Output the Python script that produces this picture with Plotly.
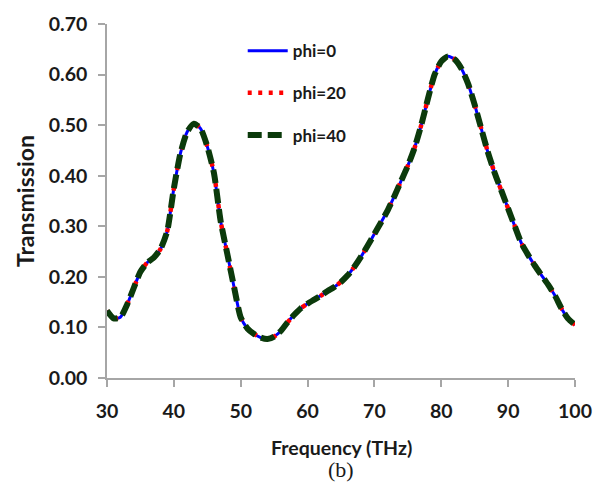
import plotly.graph_objects as go

freq = list(range(30, 101))
trans = [0.133, 0.118, 0.120, 0.145, 0.178, 0.210, 0.228, 0.238, 0.255, 0.290,
         0.375, 0.445, 0.487, 0.503, 0.493, 0.458, 0.405, 0.310, 0.245, 0.180,
         0.120, 0.098, 0.087, 0.080, 0.077, 0.082, 0.093, 0.110, 0.125, 0.138,
         0.147, 0.155, 0.163, 0.172, 0.180, 0.190, 0.203, 0.220, 0.240, 0.262,
         0.285, 0.308, 0.332, 0.360, 0.390, 0.420, 0.455, 0.500, 0.552, 0.600,
         0.626, 0.636, 0.630, 0.612, 0.582, 0.540, 0.492, 0.445, 0.405, 0.370,
         0.335, 0.300, 0.266, 0.243, 0.222, 0.203, 0.184, 0.163, 0.137, 0.117,
         0.105]
series_names = ["phi=0", "phi=20", "phi=40"]
series_vals = [trans, trans, trans]
x_ticks = [30, 40, 50, 60, 70, 80, 90, 100]
y_ticks = [0.0, 0.1, 0.2, 0.3, 0.4, 0.5, 0.6, 0.7]

styles = [
    dict(color="#0000ff", width=3, dash="solid"),
    dict(color="#ff0000", width=4.5, dash="4px,6.5px"),
    dict(color="#0b3a0b", width=6, dash="14px,6px"),
]

fig = go.Figure()
for i, (name, vals) in enumerate(zip(series_names, series_vals)):
    fig.add_trace(go.Scatter(x=freq, y=vals, mode="lines", name=name,
                             line=dict(shape="spline", smoothing=0.6, **styles[i]),
                             legendgroup=name))

font_family = "Lato, 'Open Sans', sans-serif"
txt = "#1a1a1a"
fig.update_layout(
    width=604, height=503,
    margin=dict(l=107, r=28, t=19, b=125),
    paper_bgcolor="white", plot_bgcolor="white",
    showlegend=True,
    legend=dict(x=0.29, y=0.974, xanchor="left", yanchor="top",
                bgcolor="rgba(0,0,0,0)", tracegroupgap=17, itemwidth=40,
                font=dict(family=font_family, size=17, color=txt, weight="bold")),
    xaxis=dict(range=[30, 100], tickvals=x_ticks, ticktext=[str(v) for v in x_ticks],
               showgrid=False, zeroline=False, showline=True, linecolor="#a6a6a6", linewidth=1.5,
               ticks="outside", ticklen=7, tickcolor="#a6a6a6", tickwidth=1.5,
               ticklabelstandoff=8,
               tickfont=dict(family=font_family, size=19.5, color=txt, weight="bold")),
    yaxis=dict(range=[0, 0.70], tickvals=y_ticks, ticktext=[f"{v:.2f}" for v in y_ticks],
               showgrid=False, zeroline=False, showline=True, linecolor="#a6a6a6", linewidth=1.5,
               ticks="outside", ticklen=7, tickcolor="#a6a6a6", tickwidth=1.5,
               ticklabelstandoff=7,
               tickfont=dict(family=font_family, size=19.5, color=txt, weight="bold")),
    annotations=[
        dict(text="Frequency (THz)", x=0.5, y=-0.195, xref="paper", yref="paper",
             xanchor="center", yanchor="middle", showarrow=False,
             font=dict(family=font_family, size=19.5, color=txt, weight="bold")),
        dict(text="Transmission", x=-0.175, y=0.5, xref="paper", yref="paper",
             xanchor="center", yanchor="middle", showarrow=False, textangle=-90,
             font=dict(family=font_family, size=23, color=txt, weight="bold")),
        dict(text="(b)", x=0.5, y=-0.259, xref="paper", yref="paper",
             xanchor="center", yanchor="middle", showarrow=False,
             font=dict(family="'Liberation Serif', 'Times New Roman', serif", size=22, color=txt)),
    ],
)

fig.write_html("out.html", config={"displayModeBar": False},
               post_script="document.body.style.margin='0';")
